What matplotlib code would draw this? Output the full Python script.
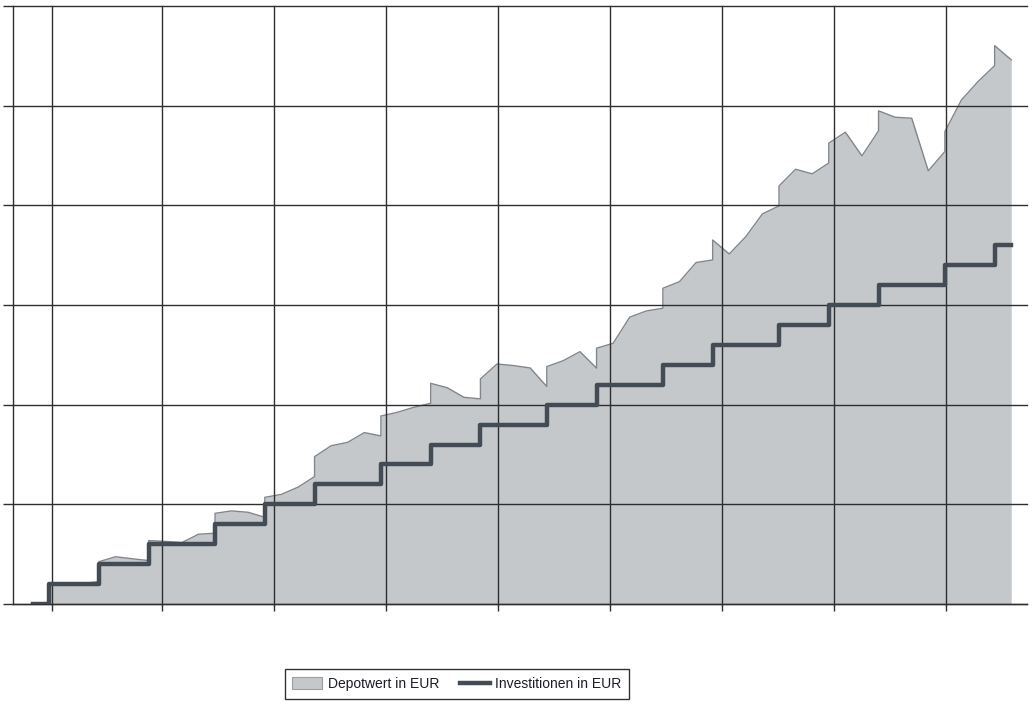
import matplotlib
matplotlib.use("Agg")
import matplotlib.pyplot as plt
from matplotlib.patches import Patch
from matplotlib.lines import Line2D

# month index 0..59
months = list(range(60))

# months with a new investment of 1000 EUR
invest_months = [1, 4, 7, 11, 14, 17, 21, 24, 27, 31, 34, 38, 41, 45, 48, 51, 55, 58]
invest_amount = 1000

# depot value (after the investment of that month), months 1..59
depot_months = list(range(1, 60))
depot_values = [1000, 1000, 1030, 2120, 2370, 2270, 3180, 3140, 3080, 3500,
                4550, 4670, 4600, 5350, 5500, 5860, 7390, 7940, 8110, 8600,
                9430, 9620, 9870, 11070, 10850, 10370, 11290, 12040, 11960, 11840,
                11910, 12210, 12660, 12830, 13080, 14390, 14700, 15840, 16170, 17130,
                18260, 17560, 18430, 19570, 20970, 21810, 21580, 23120, 23670, 22480,
                24740, 24420, 24370, 21730, 23700, 25290, 26210, 28010, 27300]

# gridline positions on the (unlabelled) time axis
x_grid = [1.17, 7.80, 14.56, 21.31, 28.06, 34.81, 41.56, 48.32, 55.07]
y_grid = [0, 5000, 10000, 15000, 20000, 25000, 30000]

# cumulative investments
invested = []
total = 0
for m in months:
    if m in invest_months:
        total += invest_amount
    invested.append(total)

# depot curve with vertical jumps at investment dates
xs, ys = [], []
for m, v in zip(depot_months, depot_values):
    if m in invest_months:
        xs.append(m)
        ys.append(v - invest_amount)
    xs.append(m)
    ys.append(v)

fill_col = "#c5c8cb"
edge_col = "#80868c"
inv_col = "#434b54"
grid_col = "#2e2e2e"

fig = plt.figure(figsize=(10.34, 7.09), dpi=100)
ax = fig.add_axes([13 / 1034, 105 / 709, 1014 / 1034, 598 / 709])

ax.fill_between(xs, ys, 0, color=fill_col, linewidth=0, zorder=1)
ax.plot(xs, ys, color=edge_col, linewidth=1.0, zorder=1.5)
ax.step(months, invested, where="post", color=inv_col, linewidth=3.2, zorder=3)

ax.set_xlim(-1.18, 59.95)
ax.set_ylim(0, 30000)

ax.set_xticks(x_grid)
ax.set_yticks(y_grid)
ax.set_xticklabels([])
ax.set_yticklabels([])
ax.set_axisbelow(False)
ax.grid(True, color=grid_col, linewidth=1.0)
for gl in ax.get_xgridlines() + ax.get_ygridlines():
    gl.set_zorder(2)
    gl.set_clip_on(False)

ax.tick_params(axis="x", direction="out", length=5, width=1.0, color=grid_col)
ax.tick_params(axis="y", direction="out", length=7.5, width=1.0, color=grid_col)

ax.spines["top"].set_visible(False)
ax.spines["right"].set_visible(False)
ax.spines["left"].set_color(grid_col)
ax.spines["bottom"].set_color(grid_col)
ax.spines["left"].set_linewidth(1.0)
ax.spines["bottom"].set_linewidth(1.0)

handles = [Patch(facecolor=fill_col, edgecolor="#9a9fa4", linewidth=0.8),
           Line2D([0], [0], color=inv_col, linewidth=3.2)]
leg = fig.legend(handles, ["Depotwert in EUR", "Investitionen in EUR"],
                 loc="center", bbox_to_anchor=(457 / 1034, 1 - 684 / 709),
                 ncol=2, frameon=True, fancybox=False, edgecolor="black",
                 prop={"family": "Liberation Sans", "size": 10},
                 handlelength=2.15, handleheight=1.0, handletextpad=0.4,
                 columnspacing=1.5, borderpad=0.55, borderaxespad=0)
leg.get_frame().set_linewidth(1.0)
for t in leg.get_texts():
    t.set_color("#1c1c2a")

plt.savefig("out.png", dpi=100)
